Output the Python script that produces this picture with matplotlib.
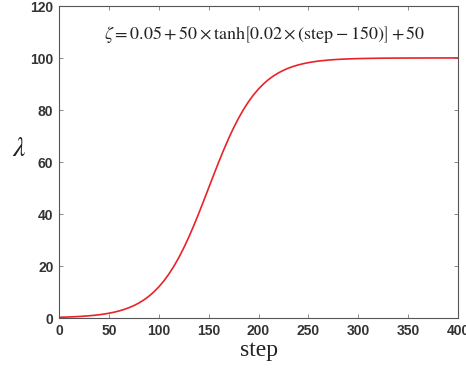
import matplotlib
matplotlib.use("Agg")
import matplotlib.pyplot as plt

# values
steps = [0, 5, 10, 15, 20, 25, 30, 35, 40, 45, 50, 55, 60, 65, 70, 75, 80, 85, 90, 95,
         100, 105, 110, 115, 120, 125, 130, 135, 140, 145, 150, 155, 160, 165, 170, 175,
         180, 185, 190, 195, 200, 205, 210, 215, 220, 225, 230, 235, 240, 245, 250, 255,
         260, 265, 270, 275, 280, 285, 290, 295, 300,
         310, 320, 330, 340, 350, 360, 370, 380, 390, 400]
lam = [0.30, 0.35, 0.42, 0.50, 0.60, 0.72, 0.87, 1.05, 1.26, 1.53, 1.85, 2.24, 2.71,
       3.28, 3.97, 4.79, 5.78, 6.96, 8.37, 10.02, 11.97, 14.23, 16.85, 19.83, 23.20,
       26.94, 31.05, 35.48, 40.18, 45.07, 50.05, 55.03, 59.92, 64.62, 69.05, 73.16,
       76.90, 80.27, 83.25, 85.87, 88.13, 90.08, 91.73, 93.14, 94.32, 95.31, 96.13,
       96.82, 97.39, 97.86, 98.25, 98.57, 98.84, 99.05, 99.23, 99.38, 99.50, 99.60,
       99.68, 99.75, 99.80,
       99.88, 99.94, 99.98, 100.00, 100.02, 100.03, 100.04, 100.04, 100.05, 100.05]

xticks = [0, 50, 100, 150, 200, 250, 300, 350, 400]
yticks = [0, 20, 40, 60, 80, 100, 120]

plt.rcParams['mathtext.fontset'] = 'stix'

fig = plt.figure(figsize=(4.66, 3.80), dpi=100)
ax = fig.add_axes([0.1266, 0.163, 0.8564, 0.821])
ax.plot(steps, lam, color='#e8232a', lw=1.2)

ax.set_xlim(0, 400)
ax.set_ylim(0, 120)
ax.set_xticks(xticks)
ax.set_yticks(yticks)
for s in ax.spines.values():
    s.set_color('#555555')
    s.set_linewidth(0.8)
ax.tick_params(direction='in', length=3, width=0.6, color='#777777',
               top=True, right=True, labelcolor='#333333', labelsize=10, pad=4)
for lb in ax.get_xticklabels() + ax.get_yticklabels():
    lb.set_fontweight('bold')
    lb.set_family('Liberation Sans')

ax.set_xlabel('step', family='Liberation Serif', fontsize=17, labelpad=2, color='#222222')
ax.set_ylabel(r'$\lambda$', fontsize=20, rotation=0, labelpad=12, color='#222222')
ax.yaxis.set_label_coords(-0.1, 0.5)

ax.text(0.515, 0.91,
        r'$\zeta = 0.05 + 50\times\mathrm{tanh}\left[0.02\times\left(\mathrm{step}-150\right)\right] + 50$',
        transform=ax.transAxes, ha='center', va='center', fontsize=13, color='#222222')

fig.savefig('out.png', dpi=100)
